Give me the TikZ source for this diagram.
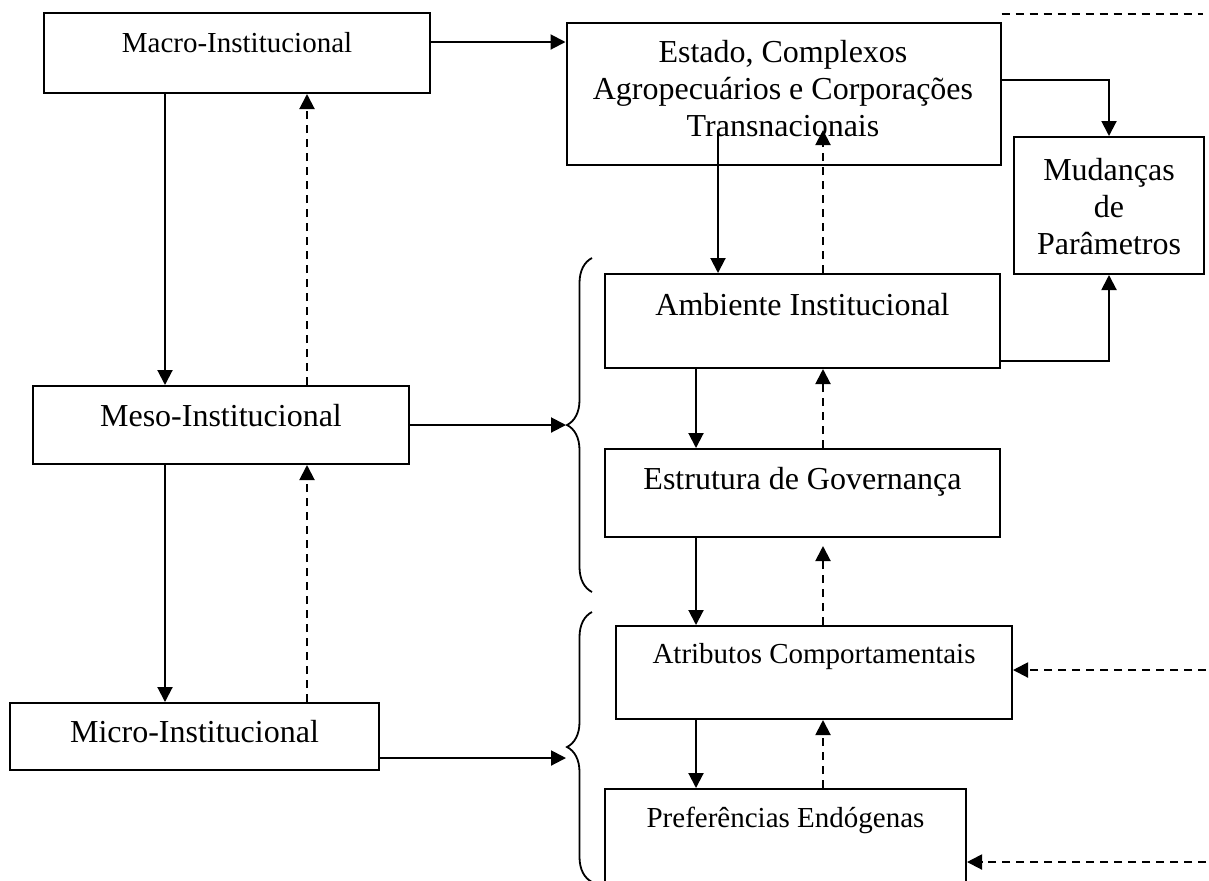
\documentclass[tikz,border=0pt]{standalone}
\usepackage{fontspec}
\setmainfont{Liberation Serif}
\usetikzlibrary{arrows.meta,decorations.pathreplacing}

\tikzset{
  box/.style={draw, line width=1pt, rectangle, inner sep=0pt},
  lbl/.style={font=\fontsize{16pt}{18.5pt}\selectfont, align=center, inner sep=0pt},
  lblsm/.style={font=\fontsize{14.5pt}{17pt}\selectfont, inner sep=0pt},
  arr/.style={line width=1pt, -{Triangle[length=7.5pt,width=7.5pt]}},
  darr/.style={arr, dash pattern=on 4pt off 3pt},
  dline/.style={line width=1pt, dash pattern=on 4pt off 3pt},
  brc/.style={line width=0.9pt, decorate, decoration={brace, amplitude=12.5pt}},
}

\begin{document}
\begin{tikzpicture}[x=0.5pt,y=-0.5pt]
\useasboundingbox (0,0) rectangle (1209,880);

% Left column: levels
\node[box, minimum width=193pt, minimum height=40pt] (macro) at (237,53) {};
\node[box, minimum width=188pt, minimum height=39pt] (meso) at (221,425) {};
\node[box, minimum width=184.5pt, minimum height=33.5pt] (micro) at (194.5,736.5) {};
\node[lblsm, anchor=base] (macro-t) at (macro.center |- 0,52) {Macro-Institucional};
\node[lbl, anchor=base] (meso-t) at (meso.center |- 0,426) {Meso-Institucional};
\node[lbl, anchor=base] (micro-t) at (micro.center |- 0,742) {Micro-Institucional};

% Right column
\node[box, minimum width=217pt, minimum height=71pt] (estado) at (783.5,94) {};
\node[box, minimum width=95pt, minimum height=68.5pt] (mudancas) at (1109,205.5) {};
\node[box, minimum width=197.5pt, minimum height=47pt] (ambiente) at (802.5,321) {};
\node[box, minimum width=197.5pt, minimum height=44pt] (estrutura) at (802.5,493) {};
\node[box, minimum width=198pt, minimum height=46.5pt] (atributos) at (814,672.5) {};
\node[box, minimum width=180.5pt, minimum height=50.5pt] (preferencias) at (785.5,839.5) {};
\node[lbl] (estado-t) at (783,89) {Estado, Complexos\\Agropecuários e Corporações\\Transnacionais};
\node[lbl] (mudancas-t) at (1109,207) {Mudanças\\de\\Parâmetros};
\node[lbl, anchor=base] (ambiente-t) at (ambiente.center |- 0,315) {Ambiente Institucional};
\node[lbl, anchor=base] (estrutura-t) at (estrutura.center |- 0,489) {Estrutura de Governança};
\node[lblsm, anchor=base] (atributos-t) at (atributos.center |- 0,663) {Atributos Comportamentais};
\node[lblsm, anchor=base] (preferencias-t) at (preferencias.center |- 0,827) {Preferências Endógenas};

% columns of the vertical links
\coordinate (lcol) at (165,0);
\coordinate (rcol) at (307,0);
\coordinate (dcol) at (696,0);
\coordinate (ucol) at (823,0);
\coordinate (estsrc) at (718,130);
\coordinate (esttip) at (823,130);

% Levels
\draw[arr] (macro.east |- 0,42) -- (estado.west |- 0,42);
\draw[arr] (macro.south -| lcol) -- (meso.north -| lcol);
\draw[darr] (meso.north -| rcol) -- (macro.south -| rcol);
\draw[arr] (meso.south -| lcol) -- (micro.north -| lcol);
\draw[darr] (micro.north -| rcol) -- (meso.south -| rcol);

% Braces
\draw[brc] (592,592) -- (592,258);
\draw[brc] (592,882) -- (592,612);
\coordinate (brace1) at (566,425);
\coordinate (brace2) at (566,758);
\draw[arr] (meso.east |- brace1) -- (brace1);
\draw[arr] (micro.east |- brace2) -- (brace2);

% Right side links
\draw[arr] (estsrc) -- (ambiente.north -| estsrc);
\draw[darr] (ambiente.north -| esttip) -- (esttip);
\draw[arr] (ambiente.south -| dcol) -- (estrutura.north -| dcol);
\draw[darr] (estrutura.north -| ucol) -- (ambiente.south -| ucol);
\draw[arr] (estrutura.south -| dcol) -- (atributos.north -| dcol);
\draw[darr, shorten >=4pt] (atributos.north -| ucol) -- (estrutura.south -| ucol);
\draw[arr] (atributos.south -| dcol) -- (preferencias.north -| dcol);
\draw[darr] (preferencias.north -| ucol) -- (atributos.south -| ucol);

\draw[arr] (estado.east |- 0,80) -| (mudancas.north);
\draw[arr] (ambiente.east |- 0,361) -| (mudancas.south);

% outside inputs
\coordinate (extE) at (1203,14);
\coordinate (extA) at (1206,670);
\coordinate (extP) at (1206,862);
\draw[dline] (estado.east |- extE) -- (extE);
\draw[darr] (extA) -- (atributos.east |- extA);
\draw[darr] (extP) -- (preferencias.east |- extP);

\end{tikzpicture}
\end{document}
